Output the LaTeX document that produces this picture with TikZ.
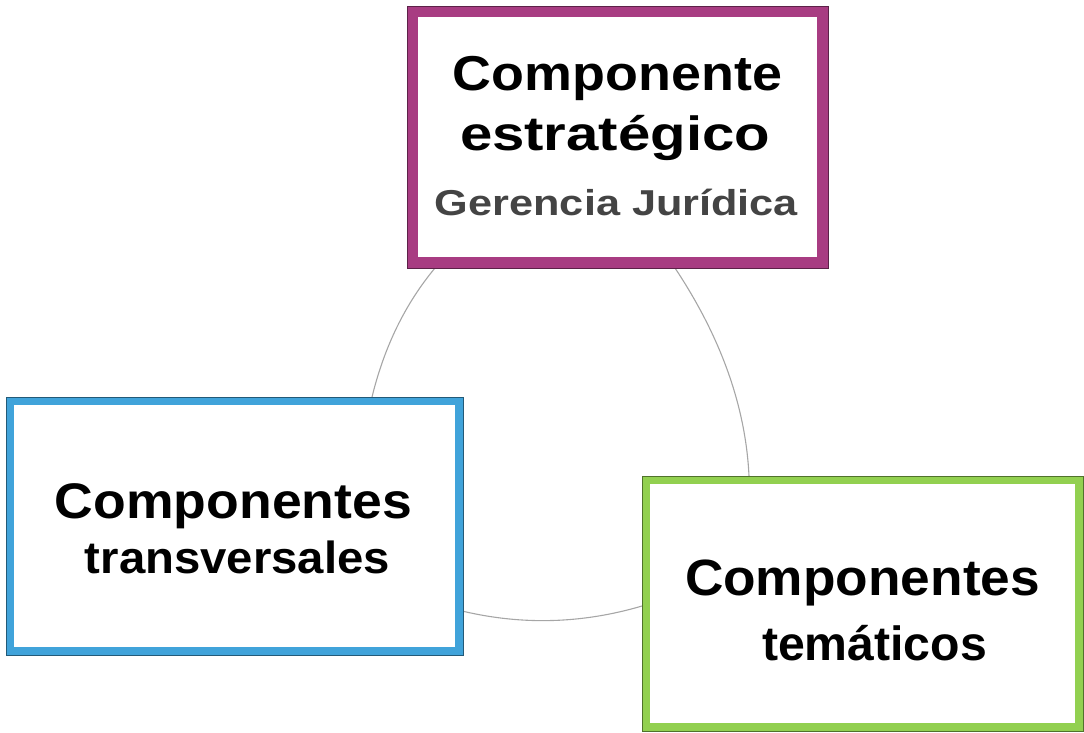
\documentclass[tikz,border=0pt]{standalone}
\usepackage{fontspec}
\setmainfont{Liberation Sans}
\usepackage{graphicx}
\definecolor{cmag}{HTML}{A83C82}
\definecolor{cblue}{HTML}{40A3DA}
\definecolor{cgreen}{HTML}{92D050}
\definecolor{carc}{HTML}{A6A6A6}
\definecolor{csub}{HTML}{444444}
\newcommand{\fitline}[3]{\resizebox{#1pt}{\height}{\fontsize{#2}{#2}\selectfont\bfseries #3}}
\tikzset{
  boxnode/.style={rectangle, fill=white, inner sep=0pt, outer sep=0pt},
  txt/.style={anchor=base, inner sep=0pt, outer sep=0pt},
  arcline/.style={draw=carc, line width=1.1pt},
  rimline/.style={line width=0.8pt}
}
\begin{document}
\begin{tikzpicture}[x=1pt,y=-1pt]
\useasboundingbox (0,0) rectangle (1084,732);
% arc end points
\coordinate (la) at (435,268);
\coordinate (lb) at (372,397);
\coordinate (ra) at (675,268);
\coordinate (rb) at (749,476);
\coordinate (ba) at (462,611);
\coordinate (bb) at (642,606);
\draw[arcline] (la) .. controls (405.3,303.7) and (384.3,346.7) .. (lb);
\draw[arcline] (ra) .. controls (721,337.3) and (745.7,406.7) .. (rb);
\draw[arcline] (ba) .. controls (522,625.3) and (582,623.7) .. (bb);
% boxes
\node[boxnode, draw=cmag, line width=11pt, minimum width=410pt, minimum height=251pt] (top) at (617.5,137) {};
\draw[rimline, draw=cmag!55!black] ([shift={(-5.5,5.5)}]top.south west) rectangle ([shift={(5.5,-5.5)}]top.north east);
\node[boxnode, draw=cblue, line width=8pt, minimum width=449pt, minimum height=250pt] (left) at (234.5,526) {};
\draw[rimline, draw=cblue!55!black] ([shift={(-4,4)}]left.south west) rectangle ([shift={(4,-4)}]left.north east);
\node[boxnode, draw=cgreen, line width=8pt, minimum width=433pt, minimum height=247pt] (right) at (862.5,603.5) {};
\draw[rimline, draw=cgreen!55!black] ([shift={(-4,4)}]right.south west) rectangle ([shift={(4,-4)}]right.north east);
% texts
\node[txt] (t1) at (617.5,90) {\fitline{329}{49}{Componente}};
\node[txt] (t2) at (615,150) {\fitline{310}{48}{estratégico}};
\node[txt, text=csub] (t3) at (616.5,215) {\fitline{363}{36}{Gerencia Jurídica}};
\node[txt] (l1) at (233.5,518) {\fitline{357}{50}{Componentes}};
\node[txt] (l2) at (237.5,573) {\fitline{305}{45}{transversales}};
\node[txt] (r1) at (862.5,595) {\fitline{355}{51}{Componentes}};
\node[txt] (r2) at (874.5,660) {\fitline{225}{48}{temáticos}};
\end{tikzpicture}
\end{document}
